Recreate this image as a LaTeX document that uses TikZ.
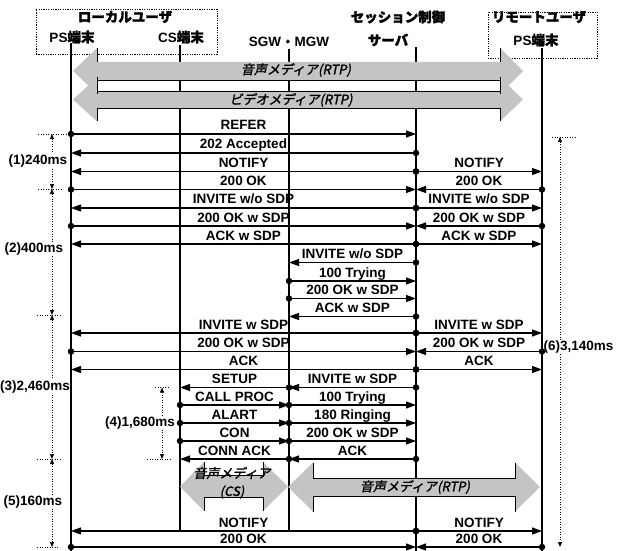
\documentclass[tikz,border=0pt]{standalone}
\usepackage{fontspec}
\setmainfont{Liberation Sans}
\newfontfamily\jp[FakeBold=1.5]{Noto Sans CJK JP}
\newfontfamily\jpm[FakeSlant=0.2,FakeBold=1.5]{Noto Sans CJK JP}
\usetikzlibrary{arrows.meta,calc}
\definecolor{medgray}{gray}{0.77}
\newcommand\msgrow[4]{%
  \draw[msgline] (#1|-#3) -- (#2|-#3);
  \node[dotc] at (#1|-#3) {};
  \node[lbl] at ($(#1|-#3)!0.5!(#2|-#3)+(0,-4)$) {#4};}
\newcommand\bigfill[7]{%
  \fill[medgray] ({#1},{#3}) -- ({#6},{#3-#5}) -- ({#6},{#3-#4}) -- ({#7},{#3-#4}) -- ({#7},{#3-#5}) -- ({#2},{#3})
   -- ({#7},{#3+#5}) -- ({#7},{#3+#4}) -- ({#6},{#3+#4}) -- ({#6},{#3+#5}) -- cycle;}
\newcommand\bigline[7]{%
  \draw[edge] ({#6},{#3-#5}) -- ({#6},{#3-#4}) -- ({#7},{#3-#4}) -- ({#7},{#3-#5});
  \draw[edge] ({#6},{#3+#5}) -- ({#6},{#3+#4}) -- ({#7},{#3+#4}) -- ({#7},{#3+#5});}
\newcommand\biglinelow[7]{%
  \draw[edge] ({#6},{#3-#5}) -- ({#6},{#3-#4});
  \draw[edge] ({#7},{#3-#5}) -- ({#7},{#3-#4});
  \draw[edge] ({#6},{#3+#5}) -- ({#6},{#3+#4}) -- ({#7},{#3+#4}) -- ({#7},{#3+#5});}
\begin{document}
\begin{tikzpicture}[x=1pt,y=-1pt,
  life/.style={line width=1.2pt},
  msgline/.style={line width=1.2pt,-{Triangle[length=10pt,width=7pt]}},
  dotc/.style={circle,fill=black,inner sep=0pt,minimum size=6.5pt},
  lbl/.style={font=\fontsize{13.5}{15}\selectfont\bfseries,anchor=base,inner sep=0pt},
  hdr/.style={font=\fontsize{13.5}{15}\selectfont\bfseries,inner sep=0pt},
  ubox/.style={draw,line width=0.8pt,dash pattern=on 1.2pt off 1.2pt,inner sep=0pt},
  tdot/.style={line width=0.7pt,dash pattern=on 1pt off 1.5pt},
  tarr/.style={tdot,{Triangle[length=5pt,width=4pt]}-{Triangle[length=5pt,width=4pt]}},
  tlbl/.style={font=\fontsize{13.5}{15}\selectfont\bfseries,fill=white,inner sep=1pt},
  medlbl/.style={font=\fontsize{13}{15}\selectfont\jpm,inner sep=0pt},
  edge/.style={line width=0.9pt}]
\useasboundingbox (0,0) rectangle (622,551);
% user boxes
\node[ubox,minimum width=181pt,minimum height=45pt] (lbox) at (126.5,31.5) {};
\node[ubox,minimum width=109pt,minimum height=46pt] (rbox) at (542.5,35) {};
% headers
\node[hdr] (hlu) at (125,17) {\jp ローカルユーザ};
\node[hdr] (hps) at (72,37) {PS{\jp 端末}};
\node[hdr] (hcs) at (181,37) {CS{\jp 端末}};
\node[hdr] (hgw) at (289,42) {SGW{\jp ・}MGW};
\node[hdr] (hsv1) at (398,17) {\jp セッション制御};
\node[hdr] (hsv2) at (388,40) {\jp サーバ};
\node[hdr] (hru) at (539,17) {\jp リモートユーザ};
\node[hdr] (hrp) at (536,40) {PS{\jp 端末}};
% timeline annotations
\draw[tdot] (38,134) -- (66,134);
\draw[tdot] (38,189) -- (62,189);
\draw[tdot] (37,315) -- (62,315);
\draw[tdot] (37,459) -- (62,459);
\draw[tdot] (37,547) -- (58,547);
\draw[tarr] (52,134) -- (52,189);
\draw[tarr] (52,189) -- (52,315);
\draw[tarr] (52,315) -- (52,459);
\draw[tarr] (52,459) -- (52,547);
\node[tlbl] (t1) at (38,161) {(1)240ms};
\node[tlbl] (t2) at (34,249) {(2)400ms};
\node[tlbl] (t3) at (35,387) {(3)2,460ms};
\node[tlbl] (t5) at (33,502) {(5)160ms};
\draw[tdot] (155,387.5) -- (170,387.5);
\draw[tdot] (147,459) -- (170,459);
\draw[tarr] (162,387.5) -- (162,459);
\node[tlbl,anchor=east] (t4) at (176,423) {(4)1,680ms};
\draw[tdot] (552,137) -- (575,137);
\draw[tarr] (560,137) -- (560,547);
\node[tlbl,anchor=west] (t6) at (542.5,347) {(6)3,140ms};
% lifelines
\coordinate (psT) at (71,43);  \coordinate (psB) at (71,551);
\coordinate (csT) at (180,45); \coordinate (csB) at (180,531);
\coordinate (gwT) at (289,49); \coordinate (gwB) at (289,531);
\coordinate (svT) at (416,47); \coordinate (svB) at (416,551);
\coordinate (rpT) at (542,48); \coordinate (rpB) at (542,551);
\draw[life] (psT) -- (psB);
\draw[life] (csT) -- (csB);
\draw[life] (gwT) -- (gwB);
\draw[life] (svT) -- (svB);
\draw[life] (rpT) -- (rpB);
% media arrows
\bigfill{73}{523}{71}{9}{23}{97}{500}
\bigfill{73}{523}{99.5}{8.5}{22}{97}{500}
\biglinelow{73}{523}{71}{9}{23}{97}{500}
\bigline{73}{523}{99.5}{8.5}{22}{97}{500}
\bigfill{180}{288}{486.5}{11}{24.5}{204}{263}
\bigline{180}{288}{486.5}{11}{24.5}{204}{263}
\bigfill{288}{540}{487}{9}{24.5}{313}{515}
\bigline{288}{540}{487}{9}{24.5}{313}{515}
\node[medlbl] (m1) at (296,70) {音声メディア(RTP)};
\node[medlbl] (m2) at (291,100) {ビデオメディア(RTP)};
\node[medlbl] (m3) at (232,473) {音声メディア};
\node[medlbl] (m4) at (232,492) {(CS)};
\node[medlbl] (m5) at (415,487) {音声メディア(RTP)};
% rows
\coordinate (r1) at (0,134);   \coordinate (r2) at (0,153);
\coordinate (r3) at (0,171.5); \coordinate (r4) at (0,189.5);
\coordinate (r5) at (0,208);   \coordinate (r6) at (0,226);
\coordinate (r7) at (0,244);   \coordinate (r8) at (0,262.5);
\coordinate (r9) at (0,281);   \coordinate (r10) at (0,298.5);
\coordinate (r11) at (0,316.5);\coordinate (r12) at (0,333);
\coordinate (r13) at (0,351.5);\coordinate (r14) at (0,369.5);
\coordinate (r15) at (0,387.5);\coordinate (r16) at (0,405);
\coordinate (r17) at (0,423);  \coordinate (r18) at (0,441);
\coordinate (r19) at (0,459);  \coordinate (r20) at (0,531);
\coordinate (r21) at (0,547);
\msgrow{psT}{svT}{r1}{REFER}
\msgrow{svT}{psT}{r2}{202 Accepted}
\msgrow{svT}{psT}{r3}{NOTIFY}
\msgrow{svT}{rpT}{r3}{NOTIFY}
\msgrow{psT}{svT}{r4}{200 OK}
\msgrow{rpT}{svT}{r4}{200 OK}
\msgrow{svT}{psT}{r5}{INVITE w/o SDP}
\msgrow{svT}{rpT}{r5}{INVITE w/o SDP}
\msgrow{psT}{svT}{r6}{200 OK w SDP}
\msgrow{rpT}{svT}{r6}{200 OK w SDP}
\msgrow{svT}{psT}{r7}{ACK w SDP}
\msgrow{svT}{rpT}{r7}{ACK w SDP}
\msgrow{svT}{gwT}{r8}{INVITE w/o SDP}
\msgrow{gwT}{svT}{r9}{100 Trying}
\msgrow{gwT}{svT}{r10}{200 OK w SDP}
\msgrow{svT}{gwT}{r11}{ACK w SDP}
\msgrow{svT}{psT}{r12}{INVITE w SDP}
\msgrow{svT}{rpT}{r12}{INVITE w SDP}
\msgrow{psT}{svT}{r13}{200 OK w SDP}
\msgrow{rpT}{svT}{r13}{200 OK w SDP}
\msgrow{svT}{psT}{r14}{ACK}
\msgrow{svT}{rpT}{r14}{ACK}
\msgrow{gwT}{csT}{r15}{SETUP}
\msgrow{svT}{gwT}{r15}{INVITE w SDP}
\msgrow{csT}{gwT}{r16}{CALL PROC}
\msgrow{gwT}{svT}{r16}{100 Trying}
\msgrow{csT}{gwT}{r17}{ALART}
\msgrow{gwT}{svT}{r17}{180 Ringing}
\msgrow{csT}{gwT}{r18}{CON}
\msgrow{gwT}{svT}{r18}{200 OK w SDP}
\msgrow{gwT}{csT}{r19}{CONN ACK}
\msgrow{svT}{gwT}{r19}{ACK}
\msgrow{svT}{psT}{r20}{NOTIFY}
\msgrow{svT}{rpT}{r20}{NOTIFY}
\msgrow{psT}{svT}{r21}{200 OK}
\msgrow{rpT}{svT}{r21}{200 OK}
\end{tikzpicture}
\end{document}
